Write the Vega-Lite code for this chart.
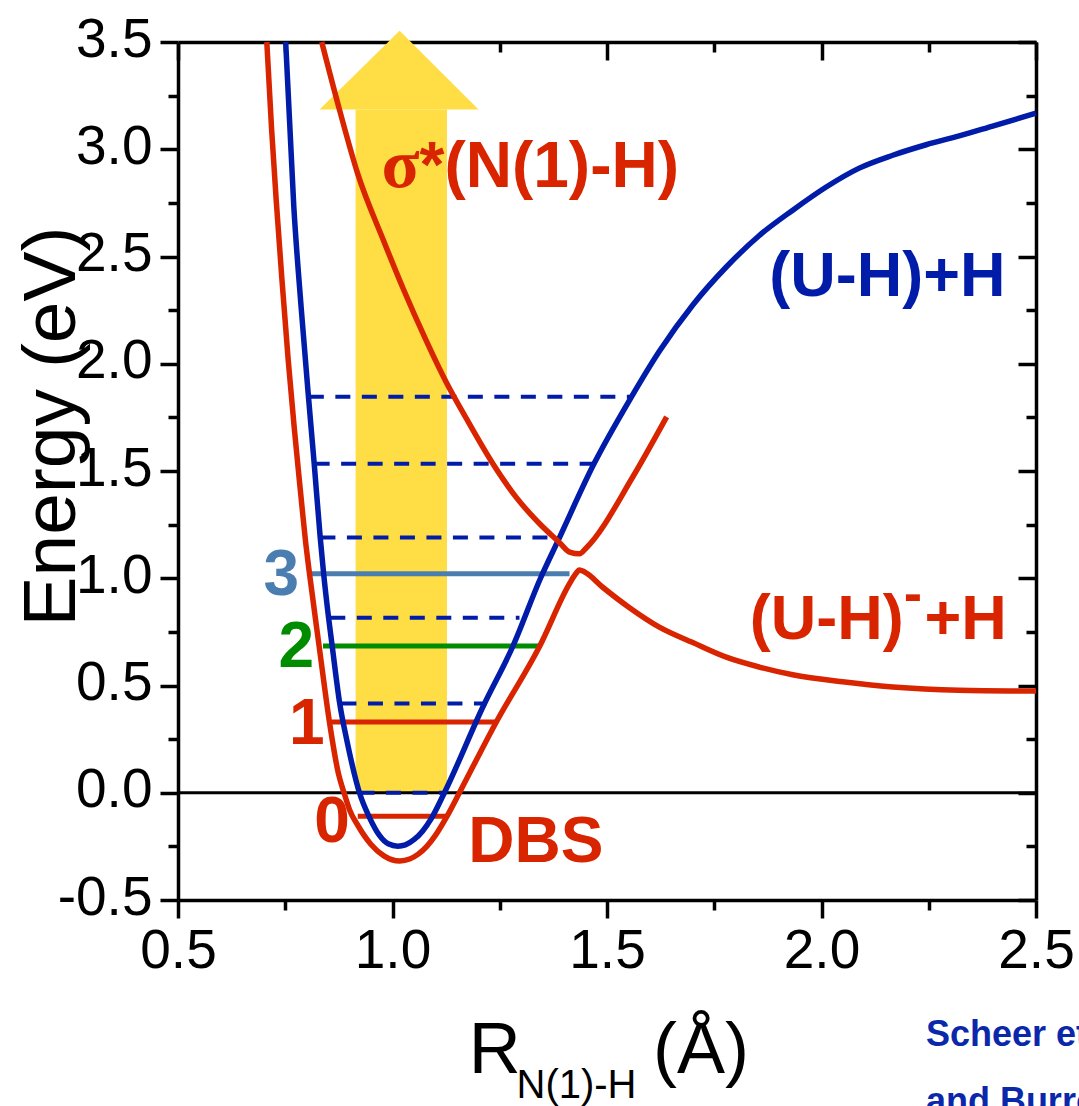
{
  "$schema": "https://vega.github.io/schema/vega-lite/v6.json",
  "width": 858,
  "height": 858,
  "autosize": {"type": "none"},
  "padding": {"left": 178, "top": 42, "right": 43, "bottom": 206},
  "background": "white",
  "config": {
    "view": {"stroke": null},
    "font": "Liberation Sans",
    "axis": {
      "grid": false,
      "domainColor": "black",
      "tickColor": "black",
      "domainWidth": 3.5,
      "tickWidth": 3.5,
      "labelColor": "black",
      "titleColor": "black",
      "labelFont": "Liberation Sans",
      "titleFont": "Liberation Sans",
      "labelFontSize": 55,
      "titleFontWeight": "normal",
      "labelFlush": false,
      "labelOverlap": false
    }
  },
  "datasets": {
    "shaft": [{"x1": 0.914, "x2": 1.127, "y1": 0, "y2": 3.185}],
    "head": [
      {"x": 0.830, "y": 3.185, "base": 3.185},
      {"x": 1.0166, "y": 3.553, "base": 3.185},
      {"x": 1.2006, "y": 3.185, "base": 3.185}
    ],
    "zero": [{"y": 0}],
    "dashed": [
      {"x1": 0.923, "x2": 1.121, "y": 0.0},
      {"x1": 0.881, "x2": 1.219, "y": 0.416},
      {"x1": 0.855, "x2": 1.296, "y": 0.816},
      {"x1": 0.832, "x2": 1.382, "y": 1.19},
      {"x1": 0.8185, "x2": 1.469, "y": 1.534},
      {"x1": 0.805, "x2": 1.558, "y": 1.846}
    ],
    "solid": [
      {"state": "anion", "x1": 0.919, "x2": 1.125, "y": -0.11},
      {"state": "anion", "x1": 0.859, "x2": 1.244, "y": 0.330},
      {"state": "v2", "x1": 0.838, "x2": 1.343, "y": 0.684},
      {"state": "v3", "x1": 0.807, "x2": 1.4126, "y": 1.021}
    ],
    "curves": [
      {"state": "anion", "i": 1, "x": 0.707, "y": 3.5},
      {"state": "anion", "i": 2, "x": 0.718, "y": 3.1},
      {"state": "anion", "i": 3, "x": 0.729, "y": 2.76},
      {"state": "anion", "i": 4, "x": 0.742, "y": 2.40},
      {"state": "anion", "i": 5, "x": 0.757, "y": 2.015},
      {"state": "anion", "i": 6, "x": 0.771, "y": 1.70},
      {"state": "anion", "i": 7, "x": 0.786, "y": 1.394},
      {"state": "anion", "i": 8, "x": 0.797, "y": 1.177},
      {"state": "anion", "i": 9, "x": 0.8075, "y": 1.006},
      {"state": "anion", "i": 10, "x": 0.829, "y": 0.683},
      {"state": "anion", "i": 11, "x": 0.853, "y": 0.330},
      {"state": "anion", "i": 12, "x": 0.874, "y": 0.089},
      {"state": "anion", "i": 13, "x": 0.887, "y": 0.0},
      {"state": "anion", "i": 14, "x": 0.900, "y": -0.08},
      {"state": "anion", "i": 15, "x": 0.920, "y": -0.155},
      {"state": "anion", "i": 16, "x": 0.950, "y": -0.241},
      {"state": "anion", "i": 17, "x": 0.980, "y": -0.294},
      {"state": "anion", "i": 18, "x": 1.017, "y": -0.318},
      {"state": "anion", "i": 19, "x": 1.040, "y": -0.309},
      {"state": "anion", "i": 20, "x": 1.060, "y": -0.286},
      {"state": "anion", "i": 21, "x": 1.080, "y": -0.250},
      {"state": "anion", "i": 22, "x": 1.100, "y": -0.199},
      {"state": "anion", "i": 23, "x": 1.1275, "y": -0.108},
      {"state": "anion", "i": 24, "x": 1.156, "y": 0.0},
      {"state": "anion", "i": 25, "x": 1.242, "y": 0.330},
      {"state": "anion", "i": 26, "x": 1.343, "y": 0.683},
      {"state": "anion", "i": 27, "x": 1.4126, "y": 0.975},
      {"state": "anion", "i": 28, "x": 1.424, "y": 1.012},
      {"state": "anion", "i": 29, "x": 1.436, "y": 1.038},
      {"state": "anion", "i": 30, "x": 1.447, "y": 1.030},
      {"state": "anion", "i": 31, "x": 1.490, "y": 0.958},
      {"state": "anion", "i": 32, "x": 1.550, "y": 0.866},
      {"state": "anion", "i": 33, "x": 1.622, "y": 0.772},
      {"state": "anion", "i": 34, "x": 1.700, "y": 0.700},
      {"state": "anion", "i": 35, "x": 1.778, "y": 0.632},
      {"state": "anion", "i": 36, "x": 1.855, "y": 0.586},
      {"state": "anion", "i": 37, "x": 1.933, "y": 0.550},
      {"state": "anion", "i": 38, "x": 2.049, "y": 0.517},
      {"state": "anion", "i": 39, "x": 2.166, "y": 0.493},
      {"state": "anion", "i": 40, "x": 2.321, "y": 0.478},
      {"state": "anion", "i": 41, "x": 2.500, "y": 0.474},
      {"state": "neutral", "i": 1, "x": 0.751, "y": 3.5},
      {"state": "neutral", "i": 2, "x": 0.770, "y": 2.73},
      {"state": "neutral", "i": 3, "x": 0.787, "y": 2.264},
      {"state": "neutral", "i": 4, "x": 0.804, "y": 1.848},
      {"state": "neutral", "i": 5, "x": 0.8175, "y": 1.534},
      {"state": "neutral", "i": 6, "x": 0.8315, "y": 1.19},
      {"state": "neutral", "i": 7, "x": 0.8395, "y": 1.021},
      {"state": "neutral", "i": 8, "x": 0.851, "y": 0.816},
      {"state": "neutral", "i": 9, "x": 0.8595, "y": 0.683},
      {"state": "neutral", "i": 10, "x": 0.877, "y": 0.416},
      {"state": "neutral", "i": 11, "x": 0.8935, "y": 0.245},
      {"state": "neutral", "i": 12, "x": 0.923, "y": 0.0},
      {"state": "neutral", "i": 13, "x": 0.947, "y": -0.118},
      {"state": "neutral", "i": 14, "x": 0.970, "y": -0.200},
      {"state": "neutral", "i": 15, "x": 0.990, "y": -0.238},
      {"state": "neutral", "i": 16, "x": 1.0126, "y": -0.249},
      {"state": "neutral", "i": 17, "x": 1.030, "y": -0.243},
      {"state": "neutral", "i": 18, "x": 1.050, "y": -0.219},
      {"state": "neutral", "i": 19, "x": 1.070, "y": -0.179},
      {"state": "neutral", "i": 20, "x": 1.090, "y": -0.122},
      {"state": "neutral", "i": 21, "x": 1.121, "y": 0.0},
      {"state": "neutral", "i": 22, "x": 1.2106, "y": 0.400},
      {"state": "neutral", "i": 23, "x": 1.2806, "y": 0.683},
      {"state": "neutral", "i": 24, "x": 1.345, "y": 1.0},
      {"state": "neutral", "i": 25, "x": 1.387, "y": 1.18},
      {"state": "neutral", "i": 26, "x": 1.469, "y": 1.531},
      {"state": "neutral", "i": 27, "x": 1.556, "y": 1.842},
      {"state": "neutral", "i": 28, "x": 1.622, "y": 2.058},
      {"state": "neutral", "i": 29, "x": 1.700, "y": 2.274},
      {"state": "neutral", "i": 30, "x": 1.778, "y": 2.451},
      {"state": "neutral", "i": 31, "x": 1.855, "y": 2.598},
      {"state": "neutral", "i": 32, "x": 1.933, "y": 2.716},
      {"state": "neutral", "i": 33, "x": 2.011, "y": 2.824},
      {"state": "neutral", "i": 34, "x": 2.088, "y": 2.912},
      {"state": "neutral", "i": 35, "x": 2.166, "y": 2.972},
      {"state": "neutral", "i": 36, "x": 2.244, "y": 3.021},
      {"state": "neutral", "i": 37, "x": 2.321, "y": 3.062},
      {"state": "neutral", "i": 38, "x": 2.399, "y": 3.108},
      {"state": "neutral", "i": 39, "x": 2.500, "y": 3.168},
      {"state": "sigma", "i": 1, "x": 0.835, "y": 3.5},
      {"state": "sigma", "i": 2, "x": 0.877, "y": 3.18},
      {"state": "sigma", "i": 3, "x": 0.919, "y": 2.885},
      {"state": "sigma", "i": 4, "x": 0.979, "y": 2.575},
      {"state": "sigma", "i": 5, "x": 1.026, "y": 2.345},
      {"state": "sigma", "i": 6, "x": 1.077, "y": 2.115},
      {"state": "sigma", "i": 7, "x": 1.125, "y": 1.915},
      {"state": "sigma", "i": 8, "x": 1.172, "y": 1.745},
      {"state": "sigma", "i": 9, "x": 1.234, "y": 1.534},
      {"state": "sigma", "i": 10, "x": 1.288, "y": 1.378},
      {"state": "sigma", "i": 11, "x": 1.343, "y": 1.254},
      {"state": "sigma", "i": 12, "x": 1.389, "y": 1.167},
      {"state": "sigma", "i": 13, "x": 1.413, "y": 1.122},
      {"state": "sigma", "i": 14, "x": 1.436, "y": 1.114},
      {"state": "sigma", "i": 15, "x": 1.451, "y": 1.140},
      {"state": "sigma", "i": 16, "x": 1.560, "y": 1.472},
      {"state": "sigma", "i": 17, "x": 1.639, "y": 1.752}
    ],
    "digits": [
      {"state": "anion", "label": "0", "x": 0.8593, "y": -0.229},
      {"state": "anion", "label": "1", "x": 0.800, "y": 0.229},
      {"state": "v2", "label": "2", "x": 0.7759, "y": 0.586},
      {"state": "v3", "label": "3", "x": 0.7409, "y": 0.920}
    ],
    "redLeft": [
      {"label": "*(N(1)-H)", "x": 1.063, "y": 2.823},
      {"label": "DBS", "x": 1.1766, "y": -0.3225}
    ],
    "sigmaGlyph": [{"label": "σ", "x": 1.063, "y": 2.823}],
    "rightLabels": [
      {"state": "neutral", "label": "(U-H)+H", "x": 2.429, "y": 2.318},
      {"state": "anion", "label": "(U-H)", "x": 2.1916, "y": 0.7186},
      {"state": "anion", "label": "+H", "x": 2.432, "y": 0.7186}
    ],
    "superMinus": [{"label": "-", "x": 2.1916, "y": 0.841}],
    "xtitleBig": [
      {"label": "R", "x": 1.1776, "y": -1.3085},
      {"label": "(Å)", "x": 1.6072, "y": -1.3085}
    ],
    "xtitleSub": [{"label": "N(1)-H", "x": 1.2891, "y": -1.421}],
    "credit": [
      {"label": "Scheer et al.", "x": 2.2433, "y": -1.180},
      {"label": "and Burrow", "x": 2.2433, "y": -1.491}
    ]
  },
  "resolve": {"axis": {"x": "independent", "y": "independent"}},
  "layer": [
    {
      "data": {"name": "shaft"},
      "mark": {"type": "rect", "color": "#FFDD45"},
      "encoding": {
        "x": {
          "field": "x1", "type": "quantitative",
          "scale": {"domain": [0.5, 2.5], "nice": false, "zero": false},
          "axis": {
            "orient": "bottom", "values": [0.5, 1, 1.5, 2, 2.5], "tickSize": 18,
            "labelPadding": 6, "title": null, "domain": true,
            "labelExpr": "datum.value < 0 ? '-' + format(-datum.value, '.1f') : format(datum.value, '.1f')"
          }
        },
        "x2": {"field": "x2"},
        "y": {
          "field": "y1", "type": "quantitative",
          "scale": {"domain": [-0.5, 3.5], "nice": false, "zero": false},
          "axis": {
            "orient": "left", "values": [-0.5, 0, 0.5, 1, 1.5, 2, 2.5, 3, 3.5], "tickSize": 18,
            "labelPadding": 8, "labelOffset": -3, "domain": true,
            "labelExpr": "datum.value < 0 ? '-' + format(-datum.value, '.1f') : format(datum.value, '.1f')",
            "title": "Energy (eV)", "titleFontSize": 75, "titleX": -104, "titleY": 384,
            "titleAngle": -90, "titleBaseline": "alphabetic", "titleAlign": "center"
          }
        },
        "y2": {"field": "y2"}
      }
    },
    {
      "data": {"name": "head"},
      "mark": {"type": "area", "color": "#FFDD45", "clip": false},
      "encoding": {
        "x": {
          "field": "x", "type": "quantitative",
          "axis": {"orient": "bottom", "values": [0.75, 1.25, 1.75, 2.25], "tickSize": 10, "labels": false, "domain": false, "title": null}
        },
        "y": {
          "field": "y", "type": "quantitative",
          "axis": {"orient": "left", "values": [-0.25, 0.25, 0.75, 1.25, 1.75, 2.25, 2.75, 3.25], "tickSize": 10, "labels": false, "domain": false, "title": null}
        },
        "y2": {"field": "base"}
      }
    },
    {
      "data": {"name": "zero"},
      "mark": {"type": "rule", "color": "black", "strokeWidth": 3},
      "encoding": {"y": {"field": "y", "type": "quantitative", "axis": null}}
    },
    {
      "data": {"name": "dashed"},
      "mark": {"type": "rule", "strokeDash": [15, 11.5], "strokeWidth": 4, "color": "#001CA8"},
      "encoding": {
        "x": {
          "field": "x1", "type": "quantitative",
          "axis": {"orient": "top", "values": [0.5, 1, 1.5, 2, 2.5], "tickSize": -18, "labels": false, "domain": true, "title": null}
        },
        "x2": {"field": "x2"},
        "y": {
          "field": "y", "type": "quantitative",
          "axis": {"orient": "right", "values": [-0.5, 0, 0.5, 1, 1.5, 2, 2.5, 3, 3.5], "tickSize": -18, "labels": false, "domain": true, "title": null}
        }
      }
    },
    {
      "data": {"name": "solid"},
      "mark": {"type": "rule", "strokeWidth": 5},
      "encoding": {
        "x": {
          "field": "x1", "type": "quantitative",
          "axis": {"orient": "top", "values": [0.75, 1.25, 1.75, 2.25], "tickSize": -10, "labels": false, "domain": false, "title": null}
        },
        "x2": {"field": "x2"},
        "y": {
          "field": "y", "type": "quantitative",
          "axis": {"orient": "right", "values": [-0.25, 0.25, 0.75, 1.25, 1.75, 2.25, 2.75, 3.25], "tickSize": -10, "labels": false, "domain": false, "title": null}
        },
        "color": {
          "field": "state", "type": "nominal", "legend": null,
          "scale": {"domain": ["anion", "sigma", "neutral", "v2", "v3"], "range": ["#D92400", "#D92400", "#001CA8", "#008C00", "#4A7EB0"]}
        }
      }
    },
    {
      "data": {"name": "curves"},
      "mark": {"type": "line", "strokeWidth": 5.5, "interpolate": "monotone"},
      "encoding": {
        "x": {"field": "x", "type": "quantitative", "axis": null},
        "y": {"field": "y", "type": "quantitative", "axis": null},
        "color": {"field": "state", "type": "nominal", "legend": null},
        "order": {"field": "i", "type": "quantitative"}
      }
    },
    {
      "data": {"name": "digits"},
      "mark": {"type": "text", "font": "Liberation Sans", "fontWeight": "bold", "fontSize": 64, "align": "center", "baseline": "alphabetic"},
      "encoding": {
        "x": {"field": "x", "type": "quantitative", "axis": null},
        "y": {"field": "y", "type": "quantitative", "axis": null},
        "text": {"field": "label"},
        "color": {"field": "state", "type": "nominal", "legend": null}
      }
    },
    {
      "data": {"name": "redLeft"},
      "mark": {"type": "text", "font": "Liberation Sans", "fontWeight": "bold", "fontSize": 64, "align": "left", "baseline": "alphabetic", "color": "#D92400"},
      "encoding": {
        "x": {"field": "x", "type": "quantitative", "axis": null},
        "y": {"field": "y", "type": "quantitative", "axis": null},
        "text": {"field": "label"}
      }
    },
    {
      "data": {"name": "sigmaGlyph"},
      "mark": {"type": "text", "font": "Liberation Serif", "fontWeight": "bold", "fontSize": 70, "align": "right", "baseline": "alphabetic", "color": "#D92400"},
      "encoding": {
        "x": {"field": "x", "type": "quantitative", "axis": null},
        "y": {"field": "y", "type": "quantitative", "axis": null},
        "text": {"field": "label"}
      }
    },
    {
      "data": {"name": "rightLabels"},
      "mark": {"type": "text", "font": "Liberation Sans", "fontWeight": "bold", "fontSize": 63, "align": "right", "baseline": "alphabetic"},
      "encoding": {
        "x": {"field": "x", "type": "quantitative", "axis": null},
        "y": {"field": "y", "type": "quantitative", "axis": null},
        "text": {"field": "label"},
        "color": {"field": "state", "type": "nominal", "legend": null}
      }
    },
    {
      "data": {"name": "superMinus"},
      "mark": {"type": "text", "font": "Liberation Sans", "fontWeight": "bold", "fontSize": 55, "align": "left", "baseline": "alphabetic", "color": "#D92400"},
      "encoding": {
        "x": {"field": "x", "type": "quantitative", "axis": null},
        "y": {"field": "y", "type": "quantitative", "axis": null},
        "text": {"field": "label"}
      }
    },
    {
      "data": {"name": "xtitleBig"},
      "mark": {"type": "text", "font": "Liberation Sans", "fontSize": 72, "align": "left", "baseline": "alphabetic", "color": "black"},
      "encoding": {
        "x": {"field": "x", "type": "quantitative", "axis": null},
        "y": {"field": "y", "type": "quantitative", "axis": null},
        "text": {"field": "label"}
      }
    },
    {
      "data": {"name": "xtitleSub"},
      "mark": {"type": "text", "font": "Liberation Sans", "fontSize": 40, "align": "left", "baseline": "alphabetic", "color": "black"},
      "encoding": {
        "x": {"field": "x", "type": "quantitative", "axis": null},
        "y": {"field": "y", "type": "quantitative", "axis": null},
        "text": {"field": "label"}
      }
    },
    {
      "data": {"name": "credit"},
      "mark": {"type": "text", "font": "Liberation Sans", "fontWeight": "bold", "fontSize": 36, "align": "left", "baseline": "alphabetic", "color": "#0B28AA"},
      "encoding": {
        "x": {"field": "x", "type": "quantitative", "axis": null},
        "y": {"field": "y", "type": "quantitative", "axis": null},
        "text": {"field": "label"}
      }
    }
  ]
}
